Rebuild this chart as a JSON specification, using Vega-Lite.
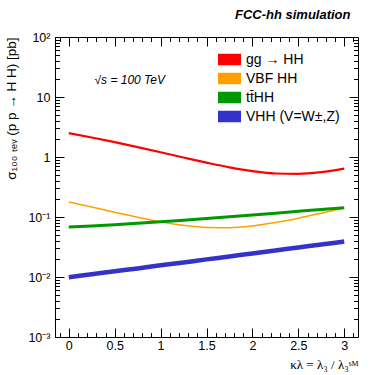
{
  "$schema": "https://vega.github.io/schema/vega-lite/v6.json",
  "width": 303,
  "height": 300,
  "autosize": {"type": "none"},
  "padding": {"left": 55, "top": 37, "right": 32, "bottom": 38},
  "background": "white",
  "config": {
    "view": {"stroke": "black", "strokeWidth": 1},
    "font": "Liberation Sans"
  },
  "title": {
    "text": "FCC-hh simulation",
    "anchor": "end",
    "font": "Liberation Sans",
    "fontSize": 13,
    "fontWeight": "bold",
    "fontStyle": "italic",
    "color": "black",
    "offset": 9,
    "dx": -8
  },
  "datasets": {
    "curves": [
      {"k": 0, "xs": 2.5, "process": "gg → HH"},
      {"k": 0.25, "xs": 2.111, "process": "gg → HH"},
      {"k": 0.5, "xs": 1.765, "process": "gg → HH"},
      {"k": 0.75, "xs": 1.461, "process": "gg → HH"},
      {"k": 1, "xs": 1.2, "process": "gg → HH"},
      {"k": 1.25, "xs": 0.981, "process": "gg → HH"},
      {"k": 1.5, "xs": 0.805, "process": "gg → HH"},
      {"k": 1.75, "xs": 0.671, "process": "gg → HH"},
      {"k": 2, "xs": 0.58, "process": "gg → HH"},
      {"k": 2.25, "xs": 0.531, "process": "gg → HH"},
      {"k": 2.5, "xs": 0.525, "process": "gg → HH"},
      {"k": 2.75, "xs": 0.561, "process": "gg → HH"},
      {"k": 3, "xs": 0.64, "process": "gg → HH"},
      {"k": 0, "xs": 0.178, "process": "VBF HH"},
      {"k": 0.25, "xs": 0.1467, "process": "VBF HH"},
      {"k": 0.5, "xs": 0.1204, "process": "VBF HH"},
      {"k": 0.75, "xs": 0.0993, "process": "VBF HH"},
      {"k": 1, "xs": 0.0834, "process": "VBF HH"},
      {"k": 1.25, "xs": 0.0726, "process": "VBF HH"},
      {"k": 1.5, "xs": 0.0669, "process": "VBF HH"},
      {"k": 1.75, "xs": 0.0664, "process": "VBF HH"},
      {"k": 2, "xs": 0.071, "process": "VBF HH"},
      {"k": 2.25, "xs": 0.0808, "process": "VBF HH"},
      {"k": 2.5, "xs": 0.0956, "process": "VBF HH"},
      {"k": 2.75, "xs": 0.1156, "process": "VBF HH"},
      {"k": 3, "xs": 0.1408, "process": "VBF HH"},
      {"k": 0, "xs": 0.068, "process": "tt̄HH"},
      {"k": 0.25, "xs": 0.0709, "process": "tt̄HH"},
      {"k": 0.5, "xs": 0.0744, "process": "tt̄HH"},
      {"k": 0.75, "xs": 0.0785, "process": "tt̄HH"},
      {"k": 1, "xs": 0.0832, "process": "tt̄HH"},
      {"k": 1.25, "xs": 0.0886, "process": "tt̄HH"},
      {"k": 1.5, "xs": 0.0945, "process": "tt̄HH"},
      {"k": 1.75, "xs": 0.1011, "process": "tt̄HH"},
      {"k": 2, "xs": 0.1082, "process": "tt̄HH"},
      {"k": 2.25, "xs": 0.116, "process": "tt̄HH"},
      {"k": 2.5, "xs": 0.1244, "process": "tt̄HH"},
      {"k": 2.75, "xs": 0.1334, "process": "tt̄HH"},
      {"k": 3, "xs": 0.143, "process": "tt̄HH"},
      {"k": 0, "xs": 0.0099, "process": "VHH (V=W±,Z)"},
      {"k": 0.25, "xs": 0.0111, "process": "VHH (V=W±,Z)"},
      {"k": 0.5, "xs": 0.01244, "process": "VHH (V=W±,Z)"},
      {"k": 0.75, "xs": 0.0139, "process": "VHH (V=W±,Z)"},
      {"k": 1, "xs": 0.01564, "process": "VHH (V=W±,Z)"},
      {"k": 1.25, "xs": 0.0175, "process": "VHH (V=W±,Z)"},
      {"k": 1.5, "xs": 0.01966, "process": "VHH (V=W±,Z)"},
      {"k": 1.75, "xs": 0.022, "process": "VHH (V=W±,Z)"},
      {"k": 2, "xs": 0.02471, "process": "VHH (V=W±,Z)"},
      {"k": 2.25, "xs": 0.0277, "process": "VHH (V=W±,Z)"},
      {"k": 2.5, "xs": 0.03106, "process": "VHH (V=W±,Z)"},
      {"k": 2.75, "xs": 0.0348, "process": "VHH (V=W±,Z)"},
      {"k": 3, "xs": 0.03904, "process": "VHH (V=W±,Z)"}
    ],
    "note": [
      {"k": 0.28, "xs": 19, "label": "√s = 100 TeV"}
    ]
  },
  "resolve": {"axis": {"x": "independent", "y": "independent"}},
  "layer": [
    {
      "data": {"name": "curves"},
      "encoding": {
        "x": {
          "field": "k",
          "type": "quantitative",
          "scale": {"domain": [-0.15, 3.15], "nice": false, "zero": false},
          "axis": {
            "orient": "bottom",
            "title": "κλ = λ₃ / λ₃ˢᴹ",
            "titleFont": "Liberation Serif",
            "titleFontSize": 13,
            "titleFontWeight": "normal",
            "titleColor": "black",
            "titleAnchor": "end",
            "titlePadding": 6,
            "values": [-0.1, 0, 0.1, 0.2, 0.3, 0.4, 0.5, 0.6, 0.7, 0.8, 0.9, 1, 1.1, 1.2, 1.3, 1.4, 1.5, 1.6, 1.7, 1.8, 1.9, 2, 2.1, 2.2, 2.3, 2.4, 2.5, 2.6, 2.7, 2.8, 2.9, 3, 3.1],
            "format": "~g",
            "labelExpr": "abs(datum.value*2 - round(datum.value*2)) < 0.001 ? datum.label : ''",
            "labelFontSize": 12.5,
            "labelColor": "black",
            "labelFont": "Liberation Sans",
            "labelPadding": {"condition": {"test": "abs(datum.value*2 - round(datum.value*2)) < 0.001", "value": 11}, "value": 7},
            "labelFlush": false,
            "labelOverlap": false,
            "domain": false,
            "grid": false,
            "tickColor": "black",
            "tickSize": {"condition": {"test": "abs(datum.value*2 - round(datum.value*2)) < 0.001", "value": -9}, "value": -4.5}
          }
        },
        "y": {
          "field": "xs",
          "type": "quantitative",
          "scale": {"type": "log", "domain": [0.001, 100], "nice": false},
          "axis": {
            "orient": "left",
            "title": "σ₁₀₀ ₜₑᵥ (p p → H H) [pb]",
            "titleFont": "Liberation Sans",
            "titleFontSize": 13.5,
            "titleFontWeight": "normal",
            "titleColor": "black",
            "titleAnchor": "end",
            "titlePadding": 9,
            "values": [0.001, 0.002, 0.003, 0.004, 0.005, 0.006, 0.007, 0.008, 0.009, 0.01, 0.02, 0.03, 0.04, 0.05, 0.06, 0.07, 0.08, 0.09, 0.1, 0.2, 0.3, 0.4, 0.5, 0.6, 0.7, 0.8, 0.9, 1, 2, 3, 4, 5, 6, 7, 8, 9, 10, 20, 30, 40, 50, 60, 70, 80, 90, 100],
            "labelExpr": "datum.value == 0.001 ? '10⁻³' : datum.value == 0.01 ? '10⁻²' : datum.value == 0.1 ? '10⁻¹' : datum.value == 1 ? '1' : datum.value == 10 ? '10' : datum.value == 100 ? '10²' : ''",
            "labelFontSize": 12.5,
            "labelColor": "black",
            "labelFont": "Liberation Sans",
            "labelPadding": {"condition": {"test": "indexof([0.001, 0.01, 0.1, 1, 10, 100], datum.value) >= 0", "value": 14}, "value": 9},
            "labelFlush": false,
            "labelOverlap": false,
            "domain": false,
            "grid": false,
            "tickColor": "black",
            "tickSize": {"condition": {"test": "indexof([0.001, 0.01, 0.1, 1, 10, 100], datum.value) >= 0", "value": -9}, "value": -4.5}
          }
        },
        "color": {
          "field": "process",
          "type": "nominal",
          "scale": {
            "domain": ["gg → HH", "VBF HH", "tt̄HH", "VHH (V=W±,Z)"],
            "range": ["#ff0000", "#ffa000", "#009900", "#3333cc"]
          },
          "legend": {
            "title": null,
            "orient": "none",
            "legendX": 163,
            "legendY": 11,
            "padding": 0,
            "symbolType": "M-1,-0.5H1V0.5H-1Z",
            "symbolSize": 529,
            "symbolStrokeWidth": 0,
            "symbolOpacity": 1,
            "labelFontSize": 14,
            "labelFont": "Liberation Sans",
            "labelColor": "black",
            "labelOffset": 5,
            "rowPadding": -1.9,
            "labelLimit": 200,
            "encode": {
              "symbols": {"update": {"fill": {"scale": "color", "field": "value"}, "fillOpacity": {"value": 1}, "strokeWidth": {"value": 0}}}
            }
          }
        }
      },
      "layer": [
        {
          "transform": [{"filter": "datum.process == 'gg → HH'"}],
          "mark": {"type": "line", "interpolate": "monotone", "clip": true, "strokeWidth": 2.2}
        },
        {
          "transform": [{"filter": "datum.process == 'VBF HH'"}],
          "mark": {"type": "line", "interpolate": "monotone", "clip": true, "strokeWidth": 1.5}
        },
        {
          "transform": [{"filter": "datum.process == 'tt̄HH'"}],
          "mark": {"type": "line", "interpolate": "monotone", "clip": true, "strokeWidth": 3}
        },
        {
          "transform": [{"filter": "datum.process == 'VHH (V=W±,Z)'"}],
          "mark": {"type": "line", "interpolate": "monotone", "clip": true, "strokeWidth": 4.5}
        }
      ]
    },
    {
      "data": {"name": "note"},
      "mark": {"type": "text", "align": "left", "baseline": "middle", "fontStyle": "italic", "fontSize": 12, "font": "Liberation Sans", "color": "black"},
      "encoding": {
        "x": {
          "field": "k",
          "type": "quantitative",
          "axis": {
            "orient": "top",
            "title": null,
            "values": [-0.1, 0, 0.1, 0.2, 0.3, 0.4, 0.5, 0.6, 0.7, 0.8, 0.9, 1, 1.1, 1.2, 1.3, 1.4, 1.5, 1.6, 1.7, 1.8, 1.9, 2, 2.1, 2.2, 2.3, 2.4, 2.5, 2.6, 2.7, 2.8, 2.9, 3, 3.1],
            "labels": false,
            "domain": false,
            "grid": false,
            "tickColor": "black",
            "tickSize": {"condition": {"test": "abs(datum.value*2 - round(datum.value*2)) < 0.001", "value": -9}, "value": -4.5}
          }
        },
        "y": {
          "field": "xs",
          "type": "quantitative",
          "axis": {
            "orient": "right",
            "title": null,
            "values": [0.001, 0.002, 0.003, 0.004, 0.005, 0.006, 0.007, 0.008, 0.009, 0.01, 0.02, 0.03, 0.04, 0.05, 0.06, 0.07, 0.08, 0.09, 0.1, 0.2, 0.3, 0.4, 0.5, 0.6, 0.7, 0.8, 0.9, 1, 2, 3, 4, 5, 6, 7, 8, 9, 10, 20, 30, 40, 50, 60, 70, 80, 90, 100],
            "labels": false,
            "domain": false,
            "grid": false,
            "tickColor": "black",
            "tickSize": {"condition": {"test": "indexof([0.001, 0.01, 0.1, 1, 10, 100], datum.value) >= 0", "value": -9}, "value": -4.5}
          }
        },
        "text": {"field": "label"}
      }
    }
  ]
}
